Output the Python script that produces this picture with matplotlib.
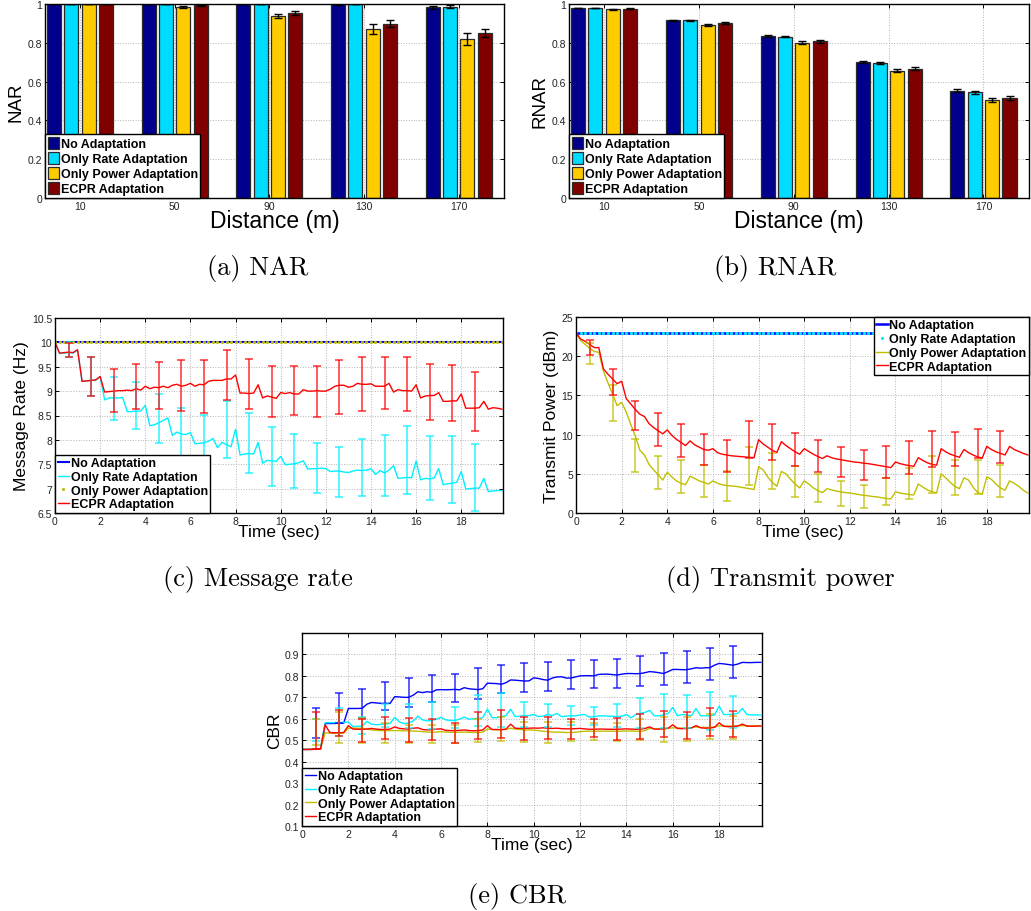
import numpy as np
import matplotlib
matplotlib.use("Agg")
import matplotlib.pyplot as plt

plt.rcParams['font.family'] = ['Liberation Sans', 'DejaVu Sans']

# ---------------- data ----------------
distances = ['10', '50', '90', '130', '170']
schemes = ['No Adaptation', 'Only Rate Adaptation', 'Only Power Adaptation', 'ECPR Adaptation']

nar = [[1.0, 1.0, 1.0, 0.998, 0.982],
       [1.0, 1.0, 1.0, 1.0, 0.987],
       [1.0, 0.984, 0.938, 0.872, 0.818],
       [1.0, 0.993, 0.953, 0.898, 0.852]]
nar_err = [[0.0, 0.002, 0.0, 0.002, 0.010],
           [0.0, 0.002, 0.0, 0.0, 0.008],
           [0.0, 0.006, 0.012, 0.025, 0.030],
           [0.0, 0.004, 0.012, 0.018, 0.020]]

rnar = [[0.979, 0.917, 0.834, 0.702, 0.553],
        [0.979, 0.915, 0.832, 0.698, 0.546],
        [0.973, 0.894, 0.801, 0.656, 0.503],
        [0.976, 0.900, 0.808, 0.666, 0.515]]
rnar_err = [[0.002, 0.003, 0.004, 0.005, 0.008],
            [0.002, 0.003, 0.004, 0.005, 0.008],
            [0.002, 0.005, 0.007, 0.008, 0.010],
            [0.002, 0.005, 0.007, 0.008, 0.010]]

# time axis (sec), one sample every 0.2 s
time = np.round(np.arange(100) * 0.2, 1)
err_time = [0.6, 1.6, 2.6, 3.6, 4.6, 5.6, 6.6, 7.6, 8.6, 9.6,
            10.6, 11.6, 12.6, 13.6, 14.6, 15.6, 16.6, 17.6, 18.6]

# (c) message rate
rate_none = [10.0] * 100
rate_power = [10.0] * 100
rate_rate = [
    10.00, 9.77, 9.78, 9.79, 9.78, 9.84, 9.20, 9.21, 9.22, 9.22,
    9.30, 8.82, 8.86, 8.86, 8.86, 8.87, 8.58, 8.58, 8.59, 8.59,
    8.71, 8.29, 8.31, 8.35, 8.40, 8.45, 8.09, 8.16, 8.12, 8.11,
    8.15, 7.92, 7.93, 7.94, 7.97, 8.03, 7.84, 7.95, 7.90, 7.86,
    8.22, 7.69, 7.71, 7.72, 7.71, 7.95, 7.52, 7.58, 7.57, 7.56,
    7.66, 7.49, 7.50, 7.51, 7.53, 7.57, 7.40, 7.41, 7.41, 7.42,
    7.41, 7.35, 7.36, 7.36, 7.34, 7.33, 7.36, 7.38, 7.37, 7.38,
    7.41, 7.29, 7.37, 7.32, 7.38, 7.47, 7.21, 7.22, 7.23, 7.22,
    7.57, 7.18, 7.21, 7.20, 7.22, 7.41, 7.08, 7.10, 7.11, 7.13,
    7.35, 6.99, 7.00, 7.01, 7.01, 7.21, 6.94, 6.95, 6.96, 6.96]
rate_ecpr = [
    10.00, 9.78, 9.79, 9.80, 9.79, 9.85, 9.20, 9.21, 9.22, 9.23,
    9.30, 8.98, 8.99, 9.00, 9.01, 9.01, 9.02, 9.01, 9.05, 9.02,
    9.10, 9.05, 9.08, 9.07, 9.10, 9.07, 9.12, 9.14, 9.10, 9.12,
    9.16, 9.10, 9.14, 9.13, 9.20, 9.22, 9.22, 9.22, 9.25, 9.25,
    9.33, 8.96, 8.96, 8.95, 8.96, 9.13, 8.86, 8.90, 8.88, 8.85,
    8.97, 8.95, 8.97, 8.94, 8.94, 9.03, 9.00, 9.00, 9.01, 9.00,
    9.00, 9.04, 9.10, 9.12, 9.12, 9.08, 9.10, 9.16, 9.14, 9.14,
    9.15, 9.10, 9.10, 9.10, 9.16, 8.98, 9.03, 9.01, 9.01, 9.00,
    9.13, 8.86, 8.90, 8.91, 8.91, 8.97, 8.79, 8.79, 8.80, 8.80,
    8.94, 8.65, 8.65, 8.65, 8.66, 8.79, 8.63, 8.66, 8.65, 8.63]
rate_rate_hi = [10.0, 9.70, 9.30, 9.19, 8.95, 8.65, 8.52, 8.80, 8.56, 8.26,
                8.12, 7.93, 7.86, 8.01, 8.11, 8.28, 8.08, 8.07, 7.91]
rate_rate_lo = [9.70, 8.90, 8.40, 8.22, 7.93, 7.60, 7.36, 7.63, 7.32, 7.05,
                7.02, 6.92, 6.83, 6.85, 6.85, 6.90, 6.76, 6.70, 6.55]
rate_ecpr_hi = [9.99, 9.69, 9.46, 9.55, 9.60, 9.63, 9.63, 9.84, 9.65, 9.51,
                9.52, 9.52, 9.63, 9.69, 9.71, 9.69, 9.55, 9.54, 9.40]
rate_ecpr_lo = [9.70, 8.90, 8.57, 8.64, 8.64, 8.59, 8.56, 8.81, 8.64, 8.46,
                8.51, 8.46, 8.54, 8.60, 8.63, 8.59, 8.41, 8.38, 8.19]

# (d) transmit power
pow_none = [23.0] * 100
pow_rate = [23.0] * 100
pow_power = [
    23.0, 22.0, 21.5, 21.0, 20.6, 20.5, 18.1, 16.6, 15.2, 13.7,
    14.1, 12.9, 11.3, 9.8, 8.0, 7.4, 6.2, 5.5, 4.9, 4.2,
    5.2, 4.6, 4.1, 3.8, 3.6, 4.7, 4.4, 4.1, 3.9, 3.7,
    4.1, 3.8, 3.6, 3.5, 3.45, 3.4, 3.3, 3.2, 3.1, 3.0,
    5.9, 5.5, 4.6, 3.9, 3.4, 5.3, 5.0, 4.3, 3.7, 3.2,
    4.1, 3.7, 3.2, 2.85, 2.6, 3.1, 2.95, 2.8, 2.7, 2.6,
    2.55, 2.45, 2.35, 2.25, 2.2, 2.1, 2.05, 1.95, 1.85, 1.8,
    2.7, 2.55, 2.45, 2.35, 2.3, 3.7, 3.3, 2.95, 2.7, 2.55,
    5.0, 4.5, 3.9, 3.4, 3.1, 4.5, 4.2, 3.3, 2.6, 2.4,
    4.6, 4.3, 3.7, 3.2, 2.9, 4.1, 3.8, 3.4, 2.9, 2.55]
pow_ecpr = [
    23.0, 22.2, 21.9, 21.5, 21.1, 21.1, 18.4, 17.7, 17.1, 16.5,
    16.8, 14.6, 13.9, 13.2, 12.6, 12.3, 11.4, 10.9, 10.5, 10.1,
    10.6, 9.9, 9.4, 9.0, 8.6, 9.2, 8.7, 8.4, 8.1, 8.0,
    8.2, 7.7, 7.5, 7.4, 7.3, 7.25, 7.2, 7.15, 7.1, 7.05,
    9.35, 8.8, 8.4, 8.0, 7.7, 9.1, 8.6, 8.2, 7.8, 7.5,
    8.2, 7.85, 7.5, 7.2, 6.95, 7.3, 7.05, 6.9, 6.8, 6.7,
    6.6, 6.5, 6.45, 6.35, 6.3, 6.2, 6.1, 6.0, 5.9, 5.8,
    6.5, 6.3, 6.15, 6.05, 5.95, 7.05, 6.7, 6.4, 6.2, 6.1,
    8.2, 7.8, 7.5, 7.3, 7.1, 8.1, 7.7, 7.4, 7.15, 7.0,
    8.5, 8.1, 7.8, 7.6, 7.4, 8.5, 8.1, 7.85, 7.6, 7.4]
pow_power_hi = [21.7, 16.3, 9.45, 7.3, 6.8, 6.15, 5.35, 8.45, 7.6, 6.05,
                4.96, 4.12, 3.57, 4.41, 5.76, 7.27, 6.72, 6.72, 6.18]
pow_power_lo = [19.0, 11.75, 5.2, 3.05, 2.6, 2.1, 1.55, 3.6, 3.0, 2.1,
                1.34, 0.92, 0.63, 0.97, 1.76, 2.6, 2.35, 2.44, 2.1]
pow_ecpr_hi = [22.1, 18.4, 14.3, 12.7, 11.3, 10.1, 9.3, 11.7, 11.4, 10.25,
               9.33, 8.4, 7.98, 8.57, 9.24, 10.5, 10.3, 10.7, 10.5]
pow_ecpr_lo = [20.1, 15.0, 10.55, 8.56, 7.1, 6.1, 5.25, 7.0, 6.8, 6.0,
               5.25, 4.54, 4.16, 4.5, 4.92, 5.88, 5.97, 7.06, 6.39]

# (e) CBR
cbr_none = [
    0.457, 0.457, 0.458, 0.459, 0.460, 0.578, 0.578, 0.578, 0.579, 0.580,
    0.648, 0.648, 0.648, 0.649, 0.668, 0.676, 0.674, 0.672, 0.672, 0.672,
    0.703, 0.702, 0.700, 0.700, 0.710, 0.726, 0.722, 0.726, 0.724, 0.735,
    0.736, 0.735, 0.736, 0.737, 0.735, 0.745, 0.740, 0.738, 0.736, 0.740,
    0.766, 0.765, 0.764, 0.761, 0.768, 0.781, 0.780, 0.778, 0.776, 0.777,
    0.791, 0.788, 0.783, 0.780, 0.790, 0.795, 0.796, 0.790, 0.790, 0.795,
    0.800, 0.801, 0.801, 0.800, 0.807, 0.808, 0.808, 0.806, 0.804, 0.808,
    0.811, 0.811, 0.810, 0.811, 0.815, 0.820, 0.818, 0.815, 0.811, 0.820,
    0.830, 0.830, 0.829, 0.829, 0.833, 0.838, 0.836, 0.838, 0.838, 0.850,
    0.858, 0.856, 0.853, 0.850, 0.855, 0.863, 0.862, 0.862, 0.863, 0.863]
cbr_rate = [
    0.457, 0.457, 0.457, 0.458, 0.459, 0.582, 0.582, 0.582, 0.583, 0.583,
    0.585, 0.563, 0.565, 0.566, 0.588, 0.575, 0.572, 0.574, 0.575, 0.578,
    0.607, 0.585, 0.578, 0.580, 0.590, 0.612, 0.595, 0.590, 0.592, 0.598,
    0.607, 0.595, 0.592, 0.592, 0.598, 0.608, 0.598, 0.600, 0.602, 0.605,
    0.645, 0.605, 0.605, 0.610, 0.615, 0.645, 0.610, 0.612, 0.615, 0.615,
    0.620, 0.610, 0.612, 0.620, 0.615, 0.625, 0.610, 0.612, 0.614, 0.614,
    0.618, 0.620, 0.608, 0.610, 0.613, 0.614, 0.612, 0.612, 0.610, 0.612,
    0.620, 0.604, 0.620, 0.625, 0.630, 0.639, 0.614, 0.614, 0.618, 0.625,
    0.653, 0.614, 0.620, 0.618, 0.614, 0.648, 0.614, 0.614, 0.614, 0.618,
    0.659, 0.620, 0.620, 0.622, 0.625, 0.648, 0.620, 0.618, 0.618, 0.617]
cbr_power = [
    0.457, 0.457, 0.457, 0.458, 0.459, 0.535, 0.533, 0.532, 0.532, 0.533,
    0.556, 0.556, 0.556, 0.556, 0.552, 0.548, 0.546, 0.545, 0.545, 0.545,
    0.545, 0.545, 0.544, 0.544, 0.543, 0.542, 0.540, 0.538, 0.538, 0.538,
    0.540, 0.538, 0.537, 0.537, 0.537, 0.538, 0.537, 0.536, 0.536, 0.538,
    0.552, 0.550, 0.549, 0.549, 0.550, 0.556, 0.552, 0.550, 0.548, 0.548,
    0.547, 0.545, 0.542, 0.540, 0.538, 0.538, 0.537, 0.536, 0.536, 0.537,
    0.540, 0.542, 0.542, 0.542, 0.542, 0.542, 0.542, 0.542, 0.542, 0.542,
    0.543, 0.543, 0.542, 0.542, 0.545, 0.555, 0.553, 0.552, 0.553, 0.555,
    0.558, 0.557, 0.556, 0.557, 0.558, 0.562, 0.560, 0.560, 0.560, 0.562,
    0.567, 0.566, 0.566, 0.566, 0.567, 0.568, 0.567, 0.567, 0.567, 0.568]
cbr_ecpr = [
    0.457, 0.457, 0.457, 0.458, 0.459, 0.572, 0.536, 0.535, 0.535, 0.536,
    0.568, 0.552, 0.551, 0.551, 0.552, 0.555, 0.552, 0.550, 0.550, 0.552,
    0.562, 0.555, 0.553, 0.552, 0.556, 0.558, 0.550, 0.548, 0.549, 0.552,
    0.553, 0.546, 0.545, 0.545, 0.546, 0.548, 0.545, 0.544, 0.545, 0.548,
    0.568, 0.550, 0.550, 0.549, 0.552, 0.575, 0.556, 0.555, 0.556, 0.556,
    0.557, 0.556, 0.558, 0.556, 0.555, 0.556, 0.554, 0.553, 0.553, 0.554,
    0.555, 0.553, 0.551, 0.551, 0.552, 0.552, 0.551, 0.551, 0.551, 0.552,
    0.553, 0.552, 0.551, 0.552, 0.555, 0.562, 0.552, 0.552, 0.553, 0.556,
    0.572, 0.555, 0.554, 0.554, 0.557, 0.568, 0.558, 0.556, 0.557, 0.560,
    0.581, 0.565, 0.563, 0.564, 0.566, 0.575, 0.566, 0.565, 0.566, 0.566]
cbr_none_hi = [0.648, 0.721, 0.741, 0.771, 0.791, 0.804, 0.810, 0.835, 0.850, 0.858,
               0.866, 0.872, 0.875, 0.878, 0.892, 0.905, 0.916, 0.928, 0.939]
cbr_none_lo = [0.511, 0.581, 0.605, 0.640, 0.656, 0.676, 0.679, 0.692, 0.718, 0.726,
               0.730, 0.738, 0.744, 0.744, 0.752, 0.757, 0.765, 0.780, 0.788]
cbr_rate_hi = [0.600, 0.648, 0.610, 0.667, 0.668, 0.676, 0.655, 0.710, 0.720, 0.680,
               0.671, 0.659, 0.653, 0.671, 0.695, 0.715, 0.713, 0.723, 0.707]
cbr_rate_lo = [0.495, 0.520, 0.527, 0.560, 0.555, 0.552, 0.555, 0.565, 0.560, 0.560,
               0.562, 0.570, 0.570, 0.562, 0.555, 0.555, 0.555, 0.547, 0.555]
cbr_power_hi = [0.600, 0.632, 0.605, 0.578, 0.570, 0.570, 0.570, 0.600, 0.610, 0.586,
                0.583, 0.586, 0.578, 0.578, 0.600, 0.610, 0.610, 0.620, 0.614]
cbr_power_lo = [0.477, 0.485, 0.485, 0.488, 0.485, 0.488, 0.488, 0.492, 0.496, 0.492,
                0.488, 0.496, 0.500, 0.496, 0.500, 0.492, 0.497, 0.508, 0.505]
cbr_ecpr_hi = [0.632, 0.640, 0.600, 0.610, 0.605, 0.600, 0.580, 0.632, 0.643, 0.610,
               0.610, 0.597, 0.597, 0.605, 0.620, 0.637, 0.632, 0.648, 0.637]
cbr_ecpr_lo = [0.461, 0.520, 0.490, 0.508, 0.490, 0.500, 0.488, 0.508, 0.511, 0.500,
               0.508, 0.508, 0.516, 0.500, 0.508, 0.516, 0.508, 0.520, 0.516]

# ---------------- style ----------------
bar_colors = ['#00008c', '#00dcff', '#ffcc00', '#800000']
c_blue, c_cyan, c_olive, c_red = '#0000ff', '#00f0ff', '#bfbf00', '#ff0000'
W, H = 1031, 912


def rect(x0, y0, x1, y1):
    # pixel box -> figure fraction
    return [x0 / W, 1 - y1 / H, (x1 - x0) / W, (y1 - y0) / H]


def matlab_axes(ax):
    ax.set_axisbelow(True)
    ax.grid(True, linestyle=':', color='#b4b4b4', linewidth=0.7)
    ax.tick_params(direction='in', length=3, width=0.7, top=True, right=True,
                   labelsize=7.5, labelcolor='#222222', pad=2)
    for s in ax.spines.values():
        s.set_linewidth(1.0)
        s.set_color('black')


def matlab_legend(ax, loc, **kw):
    leg = ax.legend(loc=loc, borderaxespad=0, fancybox=False, framealpha=1,
                    edgecolor='black', prop={'weight': 'bold', 'size': 9},
                    numpoints=1, borderpad=0.2, **kw)
    leg.get_frame().set_linewidth(1.0)
    return leg


def ebars(ax, hi, lo, color):
    hi = np.array(hi)
    lo = np.array(lo)
    ax.errorbar(err_time, (hi + lo) / 2, yerr=(hi - lo) / 2, fmt='none',
                ecolor=color, elinewidth=1.2, capsize=3, capthick=1.2, alpha=0.75)


fig = plt.figure(figsize=(W / 100, H / 100), dpi=100)

# ---- (a) / (b) grouped bars ----
xg = np.arange(1, 6)
offsets = [-0.2745, -0.0915, 0.0915, 0.2745]
for box, vals, errs, ylab in [((45, 5, 504, 199), nar, nar_err, 'NAR'),
                              ((569, 5, 1029, 199), rnar, rnar_err, 'RNAR')]:
    ax = fig.add_axes(rect(*box))
    matlab_axes(ax)
    for i in range(4):
        ax.bar(xg + offsets[i], vals[i], width=0.148, color=bar_colors[i],
               edgecolor='#2a2a2a', linewidth=0.9, label=schemes[i], zorder=2)
        ax.errorbar(xg + offsets[i], vals[i], yerr=errs[i], fmt='none',
                    ecolor='black', elinewidth=1.0, capsize=3, capthick=1.0, zorder=3)
    ax.set_xlim(0.63, 5.48)
    ax.set_ylim(0, 1)
    ax.set_xticks(xg)
    ax.set_xticklabels(distances)
    ax.set_yticks([0, 0.2, 0.4, 0.6, 0.8, 1])
    ax.set_yticklabels(['0', '0.2', '0.4', '0.6', '0.8', '1'])
    ax.set_xlabel('Distance (m)', fontsize=16.5, labelpad=-1)
    ax.set_ylabel(ylab, fontsize=13.5, labelpad=2)
    matlab_legend(ax, 'lower left', handlelength=0.9, handleheight=1.15,
                  handletextpad=0.15, labelspacing=0.14)

# ---- (c) message rate ----
ax = fig.add_axes(rect(55, 319, 503, 514))
matlab_axes(ax)
ax.plot(time, rate_none, color=c_blue, lw=1.5, label=schemes[0])
ax.plot(time, rate_rate, color=c_cyan, lw=1.0, label=schemes[1])
ax.plot(time, rate_power, color=c_olive, ls='none', marker='.', ms=2.5, label=schemes[2])
ax.plot(time, rate_ecpr, color=c_red, lw=1.0, label=schemes[3])
ebars(ax, rate_rate_hi, rate_rate_lo, c_cyan)
ebars(ax, rate_ecpr_hi, rate_ecpr_lo, c_red)
ax.set_xlim(0, 19.85)
ax.set_ylim(6.5, 10.5)
ax.set_xticks(range(0, 20, 2))
ax.set_yticks([6.5, 7, 7.5, 8, 8.5, 9, 9.5, 10, 10.5])
ax.set_yticklabels(['6.5', '7', '7.5', '8', '8.5', '9', '9.5', '10', '10.5'])
ax.set_xlabel('Time (sec)', fontsize=12.5, labelpad=-1)
ax.set_ylabel('Message Rate (Hz)', fontsize=12.5, labelpad=2)
matlab_legend(ax, 'lower left', handlelength=0.9, handletextpad=0.15, labelspacing=0.14)

# ---- (d) transmit power ----
ax = fig.add_axes(rect(576, 318, 1029, 514))
matlab_axes(ax)
ax.plot(time, pow_none, color=c_blue, lw=1.8, label=schemes[0])
ax.plot(time, pow_rate, color=c_cyan, ls='none', marker='.', ms=2.5, label=schemes[1])
ax.plot(time, pow_power, color=c_olive, lw=1.0, label=schemes[2])
ax.plot(time, pow_ecpr, color=c_red, lw=1.0, label=schemes[3])
ebars(ax, pow_power_hi, pow_power_lo, c_olive)
ebars(ax, pow_ecpr_hi, pow_ecpr_lo, c_red)
ax.set_xlim(0, 19.85)
ax.set_ylim(0, 25)
ax.set_xticks(range(0, 20, 2))
ax.set_yticks([0, 5, 10, 15, 20, 25])
ax.set_xlabel('Time (sec)', fontsize=12.5, labelpad=-1)
ax.set_ylabel('Transmit Power (dBm)', fontsize=12.5, labelpad=2)
matlab_legend(ax, 'upper right', handlelength=0.9, handletextpad=0.15, labelspacing=0.14)

# ---- (e) CBR ----
ax = fig.add_axes(rect(302, 634, 762, 827))
matlab_axes(ax)
ax.plot(time, cbr_none, color=c_blue, lw=1.0, label=schemes[0])
ax.plot(time, cbr_rate, color=c_cyan, lw=1.0, label=schemes[1])
ax.plot(time, cbr_power, color=c_olive, lw=1.0, label=schemes[2])
ax.plot(time, cbr_ecpr, color=c_red, lw=1.0, label=schemes[3])
ebars(ax, cbr_none_hi, cbr_none_lo, c_blue)
ebars(ax, cbr_rate_hi, cbr_rate_lo, c_cyan)
ebars(ax, cbr_power_hi, cbr_power_lo, c_olive)
ebars(ax, cbr_ecpr_hi, cbr_ecpr_lo, c_red)
ax.set_xlim(0, 19.85)
ax.set_ylim(0.1, 1.0)
ax.set_xticks(range(0, 20, 2))
ax.set_yticks([0.1, 0.2, 0.3, 0.4, 0.5, 0.6, 0.7, 0.8, 0.9])
ax.set_xlabel('Time (sec)', fontsize=12.5, labelpad=-1)
ax.set_ylabel('CBR', fontsize=12.5, labelpad=2)
matlab_legend(ax, 'lower left', handlelength=0.9, handletextpad=0.15, labelspacing=0.14)

# ---- sub-captions ----
captions = [('(a) NAR', 258, 268), ('(b) RNAR', 775, 268),
            ('(c) Message rate', 258, 580), ('(d) Transmit power', 780, 580),
            ('(e) CBR', 517, 897)]
for txt, cx, cy in captions:
    fig.text(cx / W, 1 - cy / H, txt, ha='center', va='center',
             fontsize=19, family='cmr10')

fig.savefig('out.png', dpi=100)
